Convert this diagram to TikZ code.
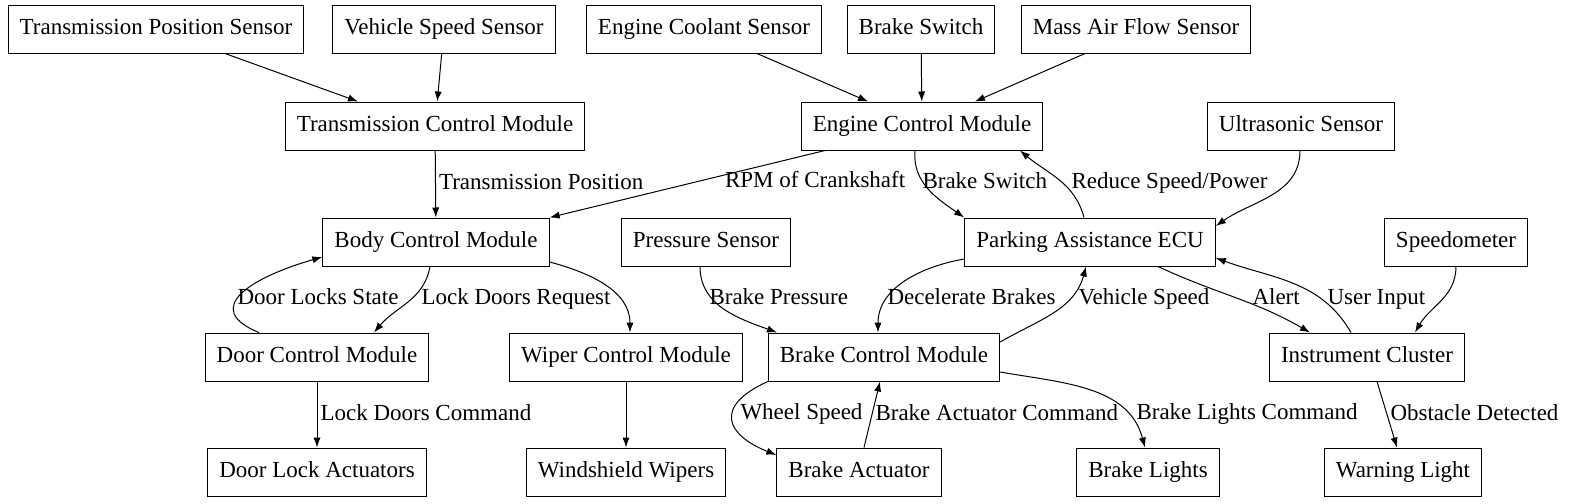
\documentclass[tikz,border=0pt]{standalone}
\usepackage{fontspec}
\setmainfont{Liberation Serif}
\usepackage{tikz}
\usetikzlibrary{arrows.meta,calc,positioning}

\begin{document}
\begin{tikzpicture}[x=0.5pt, y=0.5pt, line width=0.5pt]
    \tikzstyle{block} = [rectangle, minimum height=24pt, inner xsep=5.8pt, text height=8.2pt, text depth=2.5pt, text centered, draw=black, font=\fontsize{11.5}{13}\selectfont]
    \tikzstyle{lbl} = [inner sep=1.5pt, text height=8.2pt, text depth=2.5pt, font=\fontsize{11.5}{13}\selectfont]
    \tikzstyle{arrow} = [->, >={Latex[length=5pt, width=3.6pt]}]

    \useasboundingbox (0,0) rectangle (1571,-504);

    % sensors
    \node (tps) [block] at (156,-29) {Transmission Position Sensor};
    \node (vss) [block] at (444,-29) {Vehicle Speed Sensor};
    \node (ecs) [block] at (704,-29) {Engine Coolant Sensor};
    \node (bsw) [block] at (921,-29) {Brake Switch};
    \node (maf) [block] at (1136,-29) {Mass Air Flow Sensor};

    \node (tcm) [block] at (435,-126) {Transmission Control Module};
    \node (ecm) [block] at (922,-126) {Engine Control Module};
    \node (uss) [block] at (1301,-126) {Ultrasonic Sensor};

    \node (bcm) [block] at (436,-242) {Body Control Module};
    \node (prs) [block] at (706,-242) {Pressure Sensor};
    \node (pae) [block] at (1090,-242) {Parking Assistance ECU};
    \node (spd) [block] at (1456,-242) {Speedometer};

    \node (dcm) [block] at (317,-357) {Door Control Module};
    \node (wcm) [block] at (626,-357) {Wiper Control Module};
    \node (brcm) [block] at (884,-357) {Brake Control Module};
    \node (ic) [block] at (1367,-357) {Instrument Cluster};

    % actuators
    \node (dla) [block] at (317,-472) {Door Lock Actuators};
    \node (ww) [block] at (626,-472) {Windshield Wipers};
    \node (ba) [block] at (859,-472) {Brake Actuator};
    \node (bl) [block] at (1148,-472) {Brake Lights};
    \node (wl) [block] at (1403,-472) {Warning Light};

    \draw [arrow] ($(tps.south)+(69,0)$) -- ($(tcm.north)+(-77,0)$);
    \draw [arrow] (vss) -- (tcm);
    \draw [arrow] ($(ecs.south)+(53,0)$) -- ($(ecm.north)+(-54,0)$);
    \draw [arrow] (bsw) -- (ecm);
    \draw [arrow] ($(maf.south)+(-51,0)$) -- ($(ecm.north)+(53,0)$);

    \draw [arrow] (tcm) -- node[lbl, right] {Transmission Position} (bcm);
    \draw [arrow] ($(ecm.south)+(-97,0)$) -- node[lbl, pos=0.47, right=13pt] {RPM of Crankshaft} (bcm.north east);
    \draw [arrow] ($(ecm.south)+(-7,0)$) to[out=-95, in=145] (pae.north west) node[lbl, right] at (919,-183) {Brake Switch};
    \draw [arrow] ($(pae.north)+(-6,0)$) to[out=105, in=-40] ($(ecm.south)+(98,0)$) node[lbl, right] at (1068,-183) {Reduce Speed/Power};
    \draw [arrow] ($(uss.south)+(-1,0)$) to[out=-90, in=35] ($(pae.east)+(0,16)$);

    \draw [arrow] ($(bcm.south)+(-6,0)$) to[out=-100, in=50] ($(dcm.north)+(57,0)$) node[lbl, right] at (418,-299) {Lock Doors Request};
    \draw [arrow] ($(dcm.north)+(-58,0)$) .. controls +(-59,24) and +(-70,-20) .. ($(bcm.west)+(0,-15)$) node[lbl, right] at (234,-299) {Door Locks State};
    \draw [arrow] ($(bcm.east)+(0,-20)$) to[out=-15, in=90] ($(wcm.north)+(4,0)$);
    \draw [arrow] ($(prs.south)+(-6,0)$) to[out=-90, in=160] ($(brcm.north)+(-107,0)$) node[lbl, right] at (706,-299) {Brake Pressure};
    \draw [arrow] ($(pae.west)+(0,-17)$) to[out=190, in=90] ($(brcm.north)+(-6,0)$) node[lbl, right] at (884,-299) {Decelerate Brakes};
    \draw [arrow] ($(brcm.east)+(0,15)$) to[out=30, in=-105] ($(pae.south)+(-4,0)$) node[lbl, right] at (1075,-299) {Vehicle Speed};
    \draw [arrow] ($(pae.south)+(68,0)$) to[out=-25, in=150] ($(ic.north)+(-57,0)$) node[lbl, right] at (1249,-299) {Alert};
    \draw [arrow] ($(ic.north)+(-16,0)$) to[out=120, in=-20] ($(pae.east)+(0,-16)$) node[lbl, right] at (1324,-299) {User Input};
    \draw [arrow] (spd.south) to[out=-90, in=60] ($(ic.north)+(48,0)$);

    \draw [arrow] (dcm) -- node[lbl, right] {Lock Doors Command} (dla);
    \draw [arrow] (wcm) -- (ww);
    \draw [arrow] (brcm.south west) .. controls +(-55,-25) and +(-50,20) .. ($(ba.west)+(0,17)$) node[lbl, right] at (737,-414) {Wheel Speed};
    \draw [arrow] ($(ba.north)+(5,0)$) -- node[lbl, right] {Brake Actuator Command} ($(brcm.south)+(-4,0)$);
    \draw [arrow] ($(brcm.east)+(0,-15)$) to[out=-10, in=105] ($(bl.north)+(-3,0)$) node[lbl, right] at (1133,-414) {Brake Lights Command};
    \draw [arrow] ($(ic.south)+(10,0)$) -- node[lbl, right] {Obstacle Detected} ($(wl.north)+(-6,0)$);

\end{tikzpicture}
\end{document}
